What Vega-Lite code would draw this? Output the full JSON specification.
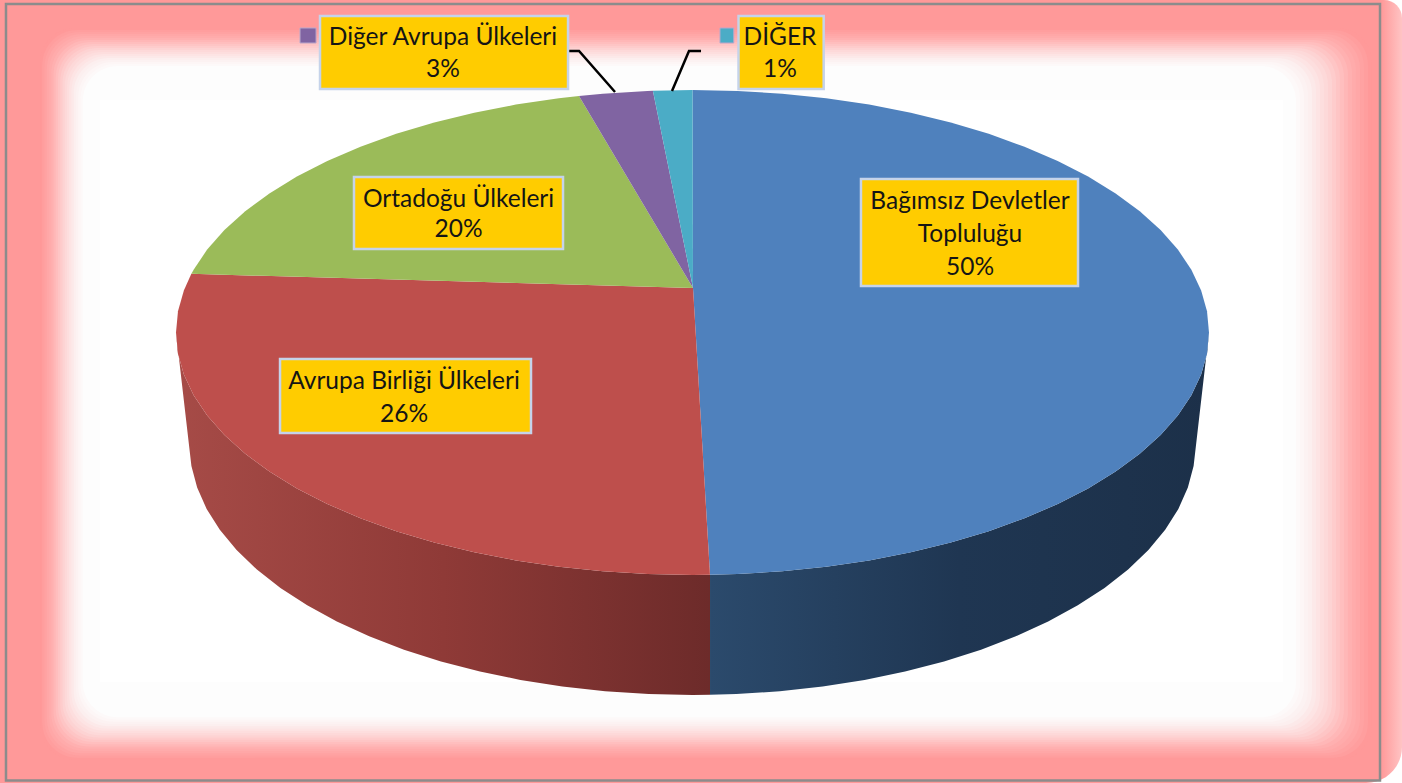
{"$schema":"https://vega.github.io/schema/vega-lite/v6.json","width":1402,"height":783,"padding":0,"background":"white","autosize":{"type":"fit","contains":"padding"},"config":{"view":{"stroke":null},"text":{"font":"Lato"}},
"datasets":{
"frame":[
{"level":0,"x":-1.2633,"x2":1.3156,"y":1.2557,"y2":-1.7629},{"level":1,"x":-1.2589,"x2":1.3079,"y":1.2475,"y2":-1.7536},{"level":2,"x":-1.2546,"x2":1.3001,"y":1.2392,"y2":-1.7443},{"level":3,"x":-1.2502,"x2":1.2924,"y":1.231,"y2":-1.7351},{"level":4,"x":-1.2459,"x2":1.2846,"y":1.2227,"y2":-1.7258},{"level":5,"x":-1.2415,"x2":1.2769,"y":1.2145,"y2":-1.7165},{"level":6,"x":-1.2372,"x2":1.2691,"y":1.2062,"y2":-1.7072},{"level":7,"x":-1.2328,"x2":1.2614,"y":1.198,"y2":-1.698},{"level":8,"x":-1.2285,"x2":1.2536,"y":1.1897,"y2":-1.6887},{"level":9,"x":-1.2241,"x2":1.2459,"y":1.1815,"y2":-1.6794},{"level":10,"x":-1.2197,"x2":1.2382,"y":1.1732,"y2":-1.6701},{"level":11,"x":-1.2154,"x2":1.2304,"y":1.165,"y2":-1.6608},{"level":12,"x":-1.211,"x2":1.2227,"y":1.1567,"y2":-1.6516},{"level":13,"x":-1.2067,"x2":1.2149,"y":1.1485,"y2":-1.6423},{"level":14,"x":-1.2023,"x2":1.2072,"y":1.1402,"y2":-1.633},{"level":15,"x":-1.198,"x2":1.1994,"y":1.132,"y2":-1.6237},{"level":16,"x":-1.1936,"x2":1.1917,"y":1.1237,"y2":-1.6144},{"level":17,"x":-1.1893,"x2":1.184,"y":1.1155,"y2":-1.6052},{"level":18,"x":-1.1849,"x2":1.1762,"y":1.1072,"y2":-1.5959},{"level":19,"x":-1.1805,"x2":1.1685,"y":1.099,"y2":-1.5866}],
"slices":[
{"slice":"Bağımsız","x":0.001,"y":0.1835},{"slice":"Bağımsız","x":0,"y":1},{"slice":"Bağımsız","x":0.0872,"y":0.9962},{"slice":"Bağımsız","x":0.1736,"y":0.9848},{"slice":"Bağımsız","x":0.2588,"y":0.9659},{"slice":"Bağımsız","x":0.342,"y":0.9397},{"slice":"Bağımsız","x":0.4226,"y":0.9063},{"slice":"Bağımsız","x":0.5,"y":0.866},{"slice":"Bağımsız","x":0.5736,"y":0.8192},{"slice":"Bağımsız","x":0.6428,"y":0.766},{"slice":"Bağımsız","x":0.7071,"y":0.7071},{"slice":"Bağımsız","x":0.766,"y":0.6428},{"slice":"Bağımsız","x":0.8192,"y":0.5736},{"slice":"Bağımsız","x":0.866,"y":0.5},{"slice":"Bağımsız","x":0.9063,"y":0.4226},{"slice":"Bağımsız","x":0.9397,"y":0.342},{"slice":"Bağımsız","x":0.9659,"y":0.2588},{"slice":"Bağımsız","x":0.9848,"y":0.1736},{"slice":"Bağımsız","x":0.9962,"y":0.0872},{"slice":"Bağımsız","x":1,"y":0},{"slice":"Bağımsız","x":0.9962,"y":-0.0872},{"slice":"Bağımsız","x":0.9848,"y":-0.1736},{"slice":"Bağımsız","x":0.9659,"y":-0.2588},{"slice":"Bağımsız","x":0.9397,"y":-0.342},{"slice":"Bağımsız","x":0.9063,"y":-0.4226},{"slice":"Bağımsız","x":0.866,"y":-0.5},{"slice":"Bağımsız","x":0.8192,"y":-0.5736},{"slice":"Bağımsız","x":0.766,"y":-0.6428},{"slice":"Bağımsız","x":0.7071,"y":-0.7071},{"slice":"Bağımsız","x":0.6428,"y":-0.766},{"slice":"Bağımsız","x":0.5736,"y":-0.8192},{"slice":"Bağımsız","x":0.5,"y":-0.866},{"slice":"Bağımsız","x":0.4226,"y":-0.9063},{"slice":"Bağımsız","x":0.342,"y":-0.9397},{"slice":"Bağımsız","x":0.2588,"y":-0.9659},{"slice":"Bağımsız","x":0.1736,"y":-0.9848},{"slice":"Bağımsız","x":0.0872,"y":-0.9962},{"slice":"Bağımsız","x":0.0339,"y":-0.9994},
{"slice":"Avrupa Birliği","x":0.001,"y":0.1835},{"slice":"Avrupa Birliği","x":0.0339,"y":-0.9994},{"slice":"Avrupa Birliği","x":0,"y":-1},{"slice":"Avrupa Birliği","x":-0.0872,"y":-0.9962},{"slice":"Avrupa Birliği","x":-0.1736,"y":-0.9848},{"slice":"Avrupa Birliği","x":-0.2588,"y":-0.9659},{"slice":"Avrupa Birliği","x":-0.342,"y":-0.9397},{"slice":"Avrupa Birliği","x":-0.4226,"y":-0.9063},{"slice":"Avrupa Birliği","x":-0.5,"y":-0.866},{"slice":"Avrupa Birliği","x":-0.5736,"y":-0.8192},{"slice":"Avrupa Birliği","x":-0.6428,"y":-0.766},{"slice":"Avrupa Birliği","x":-0.7071,"y":-0.7071},{"slice":"Avrupa Birliği","x":-0.766,"y":-0.6428},{"slice":"Avrupa Birliği","x":-0.8192,"y":-0.5736},{"slice":"Avrupa Birliği","x":-0.866,"y":-0.5},{"slice":"Avrupa Birliği","x":-0.9063,"y":-0.4226},{"slice":"Avrupa Birliği","x":-0.9397,"y":-0.342},{"slice":"Avrupa Birliği","x":-0.9659,"y":-0.2588},{"slice":"Avrupa Birliği","x":-0.9848,"y":-0.1736},{"slice":"Avrupa Birliği","x":-0.9962,"y":-0.0872},{"slice":"Avrupa Birliği","x":-1,"y":0},{"slice":"Avrupa Birliği","x":-0.9962,"y":0.0872},{"slice":"Avrupa Birliği","x":-0.9848,"y":0.1736},{"slice":"Avrupa Birliği","x":-0.9703,"y":0.2419},
{"slice":"Ortadoğu","x":0.001,"y":0.1835},{"slice":"Ortadoğu","x":-0.9703,"y":0.2419},{"slice":"Ortadoğu","x":-0.9659,"y":0.2588},{"slice":"Ortadoğu","x":-0.9397,"y":0.342},{"slice":"Ortadoğu","x":-0.9063,"y":0.4226},{"slice":"Ortadoğu","x":-0.866,"y":0.5},{"slice":"Ortadoğu","x":-0.8192,"y":0.5736},{"slice":"Ortadoğu","x":-0.766,"y":0.6428},{"slice":"Ortadoğu","x":-0.7071,"y":0.7071},{"slice":"Ortadoğu","x":-0.6428,"y":0.766},{"slice":"Ortadoğu","x":-0.5736,"y":0.8192},{"slice":"Ortadoğu","x":-0.5,"y":0.866},{"slice":"Ortadoğu","x":-0.4226,"y":0.9063},{"slice":"Ortadoğu","x":-0.342,"y":0.9397},{"slice":"Ortadoğu","x":-0.2588,"y":0.9659},{"slice":"Ortadoğu","x":-0.2198,"y":0.9755},
{"slice":"Diğer Avrupa","x":0.001,"y":0.1835},{"slice":"Diğer Avrupa","x":-0.2198,"y":0.9755},{"slice":"Diğer Avrupa","x":-0.1736,"y":0.9848},{"slice":"Diğer Avrupa","x":-0.0872,"y":0.9962},{"slice":"Diğer Avrupa","x":-0.0767,"y":0.997},
{"slice":"Diğer","x":0.001,"y":0.1835},{"slice":"Diğer","x":-0.0767,"y":0.997},{"slice":"Diğer","x":0,"y":1}],
"sideBlue":[
{"x":1,"y":0},{"x":0.9962,"y":-0.0872},{"x":0.9848,"y":-0.1736},{"x":0.9659,"y":-0.2588},{"x":0.9397,"y":-0.342},{"x":0.9063,"y":-0.4226},{"x":0.866,"y":-0.5},{"x":0.8192,"y":-0.5736},{"x":0.766,"y":-0.6428},{"x":0.7071,"y":-0.7071},{"x":0.6428,"y":-0.766},{"x":0.5736,"y":-0.8192},{"x":0.5,"y":-0.866},{"x":0.4226,"y":-0.9063},{"x":0.342,"y":-0.9397},{"x":0.2588,"y":-0.9659},{"x":0.1736,"y":-0.9848},{"x":0.0872,"y":-0.9962},{"x":0.0339,"y":-0.9994},
{"x":0.0339,"y":-1.4943},{"x":0.0849,"y":-1.491},{"x":0.1691,"y":-1.4792},{"x":0.252,"y":-1.4596},{"x":0.3331,"y":-1.4325},{"x":0.4116,"y":-1.3979},{"x":0.487,"y":-1.3562},{"x":0.5586,"y":-1.3078},{"x":0.626,"y":-1.2527},{"x":0.6886,"y":-1.1917},{"x":0.746,"y":-1.1252},{"x":0.7978,"y":-1.0535},{"x":0.8434,"y":-0.9774},{"x":0.8827,"y":-0.8972},{"x":0.9152,"y":-0.8138},{"x":0.9407,"y":-0.7277},{"x":0.9591,"y":-0.6395},{"x":0.9702,"y":-0.5501}],
"sideRed":[
{"x":-1,"y":0},{"x":-0.9962,"y":-0.0872},{"x":-0.9848,"y":-0.1736},{"x":-0.9659,"y":-0.2588},{"x":-0.9397,"y":-0.342},{"x":-0.9063,"y":-0.4226},{"x":-0.866,"y":-0.5},{"x":-0.8192,"y":-0.5736},{"x":-0.766,"y":-0.6428},{"x":-0.7071,"y":-0.7071},{"x":-0.6428,"y":-0.766},{"x":-0.5736,"y":-0.8192},{"x":-0.5,"y":-0.866},{"x":-0.4226,"y":-0.9063},{"x":-0.342,"y":-0.9397},{"x":-0.2588,"y":-0.9659},{"x":-0.1736,"y":-0.9848},{"x":-0.0872,"y":-0.9962},{"x":0,"y":-1},{"x":0.0339,"y":-0.9994},
{"x":0.0339,"y":-1.4943},{"x":0,"y":-1.4949},{"x":-0.0849,"y":-1.491},{"x":-0.1691,"y":-1.4792},{"x":-0.252,"y":-1.4596},{"x":-0.3331,"y":-1.4325},{"x":-0.4116,"y":-1.3979},{"x":-0.487,"y":-1.3562},{"x":-0.5586,"y":-1.3078},{"x":-0.626,"y":-1.2527},{"x":-0.6886,"y":-1.1917},{"x":-0.746,"y":-1.1252},{"x":-0.7978,"y":-1.0535},{"x":-0.8434,"y":-0.9774},{"x":-0.8827,"y":-0.8972},{"x":-0.9152,"y":-0.8138},{"x":-0.9407,"y":-0.7277},{"x":-0.9591,"y":-0.6395},{"x":-0.9702,"y":-0.5501}],
"leaders":[
{"slice":"Diğer Avrupa","x":-0.2391,"y":1.1608},{"slice":"Diğer Avrupa","x":-0.2197,"y":1.1608},{"slice":"Diğer Avrupa","x":-0.15,"y":0.9918},
{"slice":"Diğer","x":0.0165,"y":1.1608},{"slice":"Diğer","x":-0.0068,"y":1.1608},{"slice":"Diğer","x":-0.0397,"y":0.9959}],
"keys":[
{"slice":"Diğer Avrupa","x":-0.7599,"x2":-0.7289,"y":1.2557,"y2":1.1938},
{"slice":"Diğer","x":0.0532,"x2":0.0799,"y":1.2557,"y2":1.1938}],
"boxes":[
{"slice":"Diğer Avrupa","x":-0.7212,"x2":-0.241,"y":1.3052,"y2":1.0041},
{"slice":"Diğer","x":0.0891,"x2":0.254,"y":1.3052,"y2":1.0041},
{"slice":"Ortadoğu","x":-0.6554,"x2":-0.2507,"y":0.6412,"y2":0.3443},
{"slice":"Bağımsız","x":0.3262,"x2":0.7464,"y":0.633,"y2":0.1918},
{"slice":"Avrupa Birliği","x":-0.7986,"x2":-0.3127,"y":-0.1093,"y2":-0.4144}],
"labels":[
{"label":"Diğer Avrupa Ülkeleri","x":-0.4831,"y":1.2186},{"label":"3%","x":-0.4831,"y":1.0866},
{"label":"DİĞER","x":0.1694,"y":1.2186},{"label":"1%","x":0.1694,"y":1.0866},
{"label":"Ortadoğu Ülkeleri","x":-0.453,"y":0.5546},{"label":"20%","x":-0.453,"y":0.4268},
{"label":"Bağımsız Devletler","x":0.5373,"y":0.5423},{"label":"Topluluğu","x":0.5373,"y":0.4062},{"label":"50%","x":0.5373,"y":0.2701},
{"label":"Avrupa Birliği Ülkeleri","x":-0.5586,"y":-0.2},{"label":"26%","x":-0.5586,"y":-0.332}]
},
"encoding":{
"x":{"field":"x","type":"quantitative","axis":null,"scale":{"domain":[-1.3408,1.3737],"nice":false,"zero":false}},
"y":{"field":"y","type":"quantitative","axis":null,"scale":{"domain":[-1.8577,1.3711],"nice":false,"zero":false}}},
"layer":[
{"data":{"values":[{"x":-1.3408,"x2":1.3737,"y":1.3711,"y2":-1.8577}]},"mark":{"type":"rect","fill":{"gradient":"linear","x1":0,"y1":0,"x2":1,"y2":0,"stops":[{"offset":0,"color":"#ff9999"},{"offset":0.985,"color":"#ff9999"},{"offset":1,"color":"#ffc4c4"}]},"cornerRadiusTopRight":18,"cornerRadiusBottomRight":36},"encoding":{"x2":{"field":"x2"},"y2":{"field":"y2"}}},
{"data":{"name":"frame"},"mark":{"type":"rect","cornerRadius":35},"encoding":{"x2":{"field":"x2"},"y2":{"field":"y2"},"fill":{"field":"level","type":"quantitative","legend":null,"scale":{"domain":[0,5,10,15,19],"range":["#ff9999","#ffb0b0","#fdd3d3","#fcefef","#fdfdfd"]}}}},
{"data":{"values":[{"x":-1.1471,"x2":1.1432,"y":0.9588,"y2":-1.4412}]},"mark":{"type":"rect","fill":"#ffffff"},"encoding":{"x2":{"field":"x2"},"y2":{"field":"y2"}}},
{"data":{"values":[{"x":-1.3292,"x2":1.3311,"y":1.3546,"y2":-1.8474}]},"mark":{"type":"rect","fill":null,"stroke":"#8c8c8c","strokeWidth":2.5},"encoding":{"x2":{"field":"x2"},"y2":{"field":"y2"}}},
{"data":{"name":"sideBlue"},"mark":{"type":"line","strokeWidth":0,"fill":{"gradient":"linear","x1":0,"y1":0,"x2":1,"y2":0,"stops":[{"offset":0,"color":"#2b4a6c"},{"offset":0.5,"color":"#1f3652"},{"offset":1,"color":"#1c3049"}]}},"encoding":{"order":{"value":null}}},
{"data":{"name":"sideRed"},"mark":{"type":"line","strokeWidth":0,"fill":{"gradient":"linear","x1":0,"y1":0,"x2":1,"y2":0,"stops":[{"offset":0,"color":"#a64b47"},{"offset":0.5,"color":"#8f3a37"},{"offset":1,"color":"#6d2b2a"}]}},"encoding":{"order":{"value":null}}},
{"data":{"name":"slices"},"mark":{"type":"line","strokeWidth":0},"encoding":{"order":{"value":null},"fill":{"field":"slice","type":"nominal","legend":null,"scale":{"domain":["Bağımsız","Avrupa Birliği","Ortadoğu","Diğer Avrupa","Diğer"],"range":["#4f81bd","#be4f4c","#9bbb59","#8064a2","#4bacc6"]}}}},
{"data":{"name":"leaders"},"mark":{"type":"line","stroke":"#000000","strokeWidth":2.5},"encoding":{"order":{"value":null},"detail":{"field":"slice"}}},
{"data":{"name":"keys"},"mark":{"type":"rect","strokeWidth":1,"stroke":"#b9a8cc"},"encoding":{"x2":{"field":"x2"},"y2":{"field":"y2"},"fill":{"field":"slice","type":"nominal","legend":null,"scale":{"domain":["Bağımsız","Avrupa Birliği","Ortadoğu","Diğer Avrupa","Diğer"],"range":["#4f81bd","#be4f4c","#9bbb59","#8064a2","#4bacc6"]}}}},
{"data":{"name":"boxes"},"mark":{"type":"rect","fill":"#ffcc00","stroke":"#c5d3ea","strokeWidth":2.5},"encoding":{"x2":{"field":"x2"},"y2":{"field":"y2"}}},
{"data":{"name":"labels"},"mark":{"type":"text","font":"Lato","fontSize":24.5,"color":"#151515","align":"center","baseline":"middle","dy":1.5},"encoding":{"text":{"field":"label"}}}
]}
